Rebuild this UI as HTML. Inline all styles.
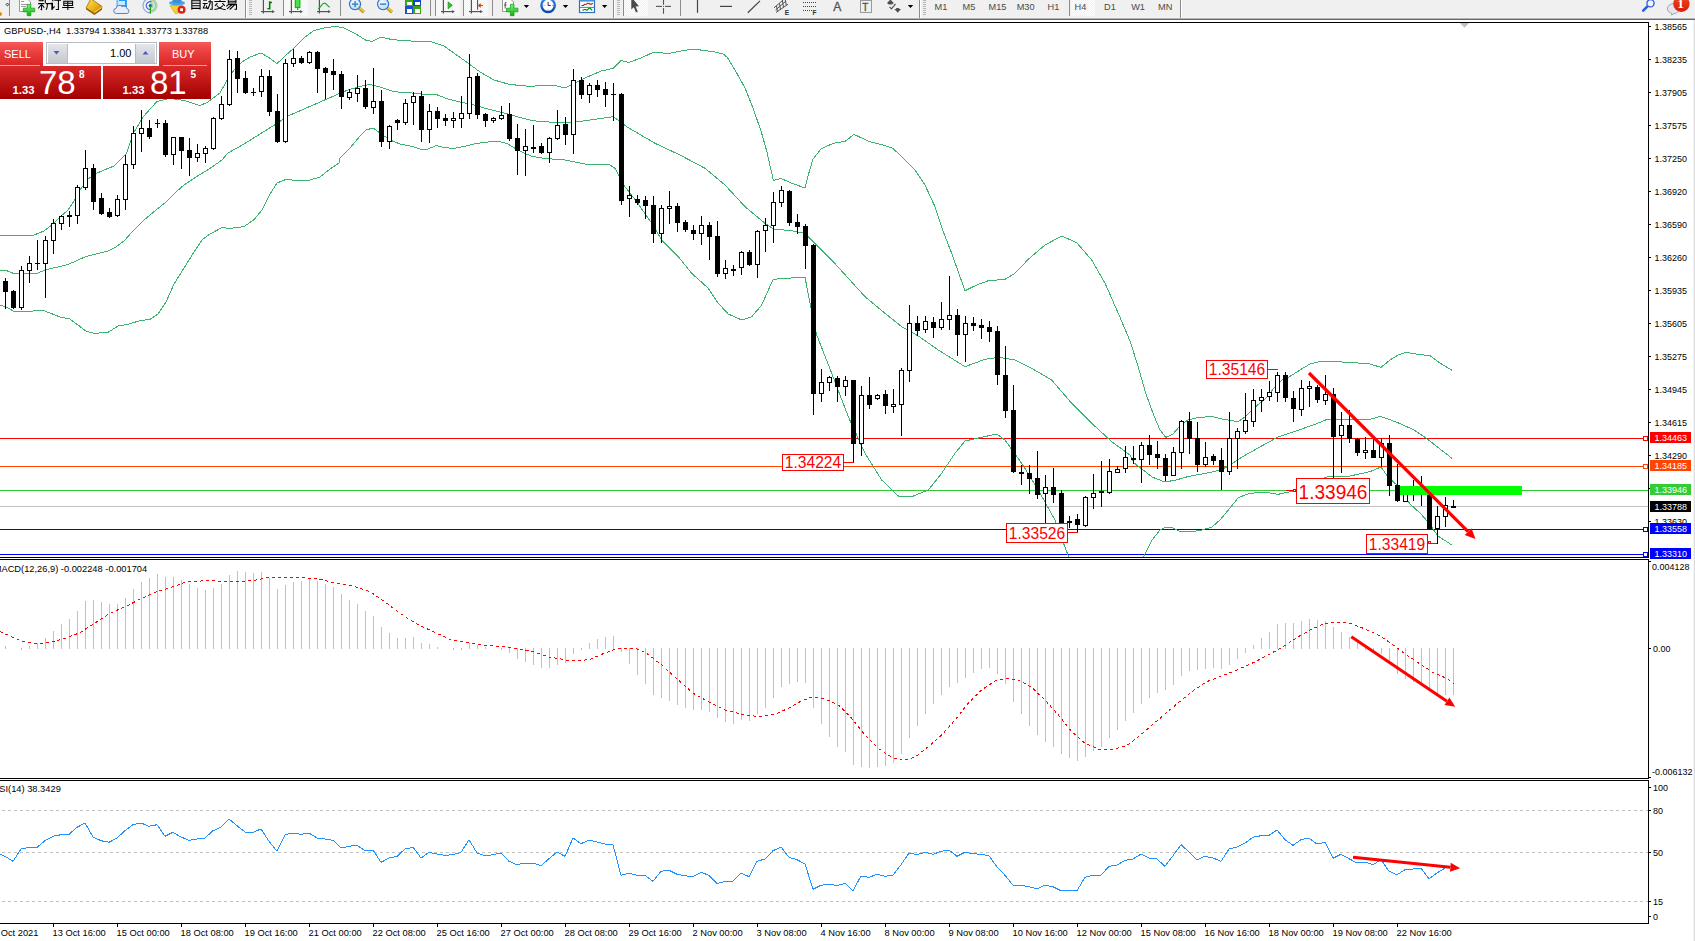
<!DOCTYPE html>
<html><head><meta charset="utf-8"><title>GBPUSD H4</title>
<style>
html,body{margin:0;padding:0;background:#fff;overflow:hidden}
body{width:1695px;height:941px;position:relative;font-family:"Liberation Sans",sans-serif}
svg{position:absolute;left:0;top:0;display:block}
svg text{font-family:"Liberation Sans",sans-serif}
</style></head><body>
<svg width="1695" height="941" viewBox="0 0 1695 941">
<rect x="0" y="0" width="1695" height="941" fill="#fff"/>
<g shape-rendering="crispEdges">
<rect x="0" y="438" width="1648" height="1" fill="#ff0000" />
<rect x="0" y="466" width="1648" height="1" fill="#ff4500" />
<rect x="0" y="490" width="1648" height="1" fill="#32cd32" />
<rect x="0" y="506" width="1648" height="1" fill="#c0c0c0" />
<rect x="0" y="529" width="1648" height="1" fill="#0000ff" />
<rect x="0" y="554" width="1648" height="1" fill="#0000ff" />
<clipPath id="cm"><rect x="0" y="23" width="1648" height="534"/></clipPath>
<g clip-path="url(#cm)">
<polyline points="0.0,235.6 20.0,235.6 34.0,235.0 44.0,231.0 52.0,225.0 60.0,217.0 68.0,210.0 74.0,201.0 80.0,190.0 88.0,179.0 96.0,173.6 104.0,170.0 114.0,166.0 120.0,160.0 126.7,153.3 133.3,133.3 143.3,116.7 156.7,101.7 170.0,98.3 185.0,100.7 200.0,105.6 208.0,102.0 220.0,93.0 226.0,82.0 234.0,70.0 242.0,62.0 250.0,57.0 261.0,53.0 268.0,57.0 277.0,63.6 284.0,57.0 294.0,48.0 304.0,38.0 314.0,30.4 324.0,28.0 336.0,26.4 344.0,28.0 356.0,34.0 366.0,40.4 372.0,41.4 381.0,37.0 392.0,39.6 404.0,40.6 418.0,41.4 432.0,42.0 444.0,46.0 458.0,56.0 468.0,63.0 480.0,72.0 494.0,80.0 508.0,84.0 520.0,85.6 532.0,86.4 539.0,85.6 553.3,85.0 565.0,88.0 585.0,78.0 601.0,71.0 613.0,68.4 621.0,60.4 629.0,62.4 641.0,58.0 653.0,52.4 669.0,53.4 681.0,51.0 693.0,49.0 705.0,50.6 715.0,52.0 723.0,54.0 727.0,57.0 735.0,70.0 745.0,88.0 753.0,108.0 761.0,131.0 767.0,152.0 771.0,170.0 773.4,180.4 781.0,178.4 791.0,183.0 805.0,188.0 808.0,176.0 813.0,159.0 821.0,149.0 833.0,143.4 845.0,141.4 854.0,134.4 869.0,141.4 881.0,144.4 893.0,148.4 904.0,159.0 915.0,170.0 925.0,185.0 935.0,206.7 943.3,231.7 951.7,253.3 960.0,276.7 965.0,290.7 976.7,285.0 988.3,280.7 1005.0,279.3 1015.0,273.3 1028.3,259.3 1045.0,245.0 1061.7,236.0 1076.7,242.7 1091.7,260.0 1105.0,283.3 1118.3,313.3 1130.0,341.0 1138.0,366.0 1146.0,394.0 1154.0,416.0 1160.0,430.0 1165.6,437.4 1173.0,434.0 1180.0,426.0 1188.0,420.0 1198.0,417.6 1212.0,416.4 1222.0,419.0 1238.0,421.6 1245.0,417.0 1254.0,408.0 1266.0,398.0 1274.0,388.0 1282.0,380.0 1290.0,376.4 1300.0,370.0 1310.0,364.0 1320.0,361.6 1330.0,361.4 1350.0,362.4 1370.0,364.0 1381.0,367.4 1390.0,360.0 1398.0,355.0 1406.0,352.4 1418.0,354.4 1430.0,355.6 1440.0,363.0 1452.4,370.6" fill="none" stroke="#3cb371" stroke-width="1" />
<polyline points="0.0,270.4 6.0,270.4 14.0,273.6 26.0,273.6 38.0,273.0 46.0,269.6 58.0,267.0 68.0,264.4 76.0,261.0 86.0,256.4 96.0,254.0 108.0,251.0 116.0,247.0 124.0,241.0 132.0,232.0 144.0,220.0 156.0,210.0 166.0,202.0 176.0,192.0 184.0,185.0 196.0,177.0 210.0,168.4 222.0,160.0 228.0,153.0 244.0,144.0 260.0,134.0 276.0,124.0 288.0,116.0 304.0,109.0 320.0,102.0 336.0,95.0 348.0,90.0 360.0,86.4 370.0,84.4 380.0,87.0 392.0,91.0 400.0,92.4 412.0,93.0 424.0,94.4 436.0,94.4 448.0,99.0 460.0,102.0 472.0,104.4 484.0,108.0 496.0,111.0 508.0,114.0 520.0,117.6 532.0,120.4 539.0,121.4 553.3,122.3 565.0,122.7 578.3,121.7 613.3,116.7 626.7,126.7 655.0,143.3 680.0,155.0 705.0,168.3 725.0,185.0 745.0,206.7 765.0,223.3 773.3,229.0 791.7,230.7 805.0,233.3 818.3,246.7 831.7,260.0 848.3,278.3 865.0,296.7 885.0,313.3 901.7,326.7 918.3,336.0 938.3,350.0 965.0,366.7 985.0,359.3 998.3,357.3 1015.0,360.0 1031.7,368.3 1051.7,380.0 1071.7,403.3 1091.7,423.3 1111.7,441.7 1130.0,455.0 1134.0,463.0 1142.0,469.0 1152.0,477.0 1165.0,482.0 1176.0,480.0 1188.0,476.6 1210.0,472.4 1221.0,470.0 1230.0,465.0 1242.0,457.0 1258.0,448.0 1278.0,437.0 1300.0,429.6 1316.0,424.0 1327.0,419.4 1346.0,419.4 1370.0,419.4 1380.0,416.4 1388.0,419.0 1400.0,423.6 1414.0,430.0 1426.0,438.0 1440.0,449.0 1452.4,458.6" fill="none" stroke="#3cb371" stroke-width="1" />
<polyline points="0.0,305.0 6.0,307.0 14.0,311.4 30.0,311.4 42.0,310.0 50.0,313.0 60.0,317.0 70.0,319.0 78.0,325.0 86.0,331.0 94.0,333.4 108.0,332.4 118.0,326.0 128.0,324.4 140.0,320.6 150.0,319.4 158.0,314.0 166.0,302.0 174.0,284.0 184.0,268.0 194.0,252.0 202.0,240.0 210.0,234.0 222.0,227.6 230.0,228.4 244.0,226.6 254.0,219.6 262.0,210.0 270.0,194.0 277.0,183.0 286.0,179.4 296.0,180.4 310.0,180.0 320.0,177.0 330.0,169.0 339.0,163.0 340.0,158.0 350.0,148.0 360.0,136.0 366.0,130.0 373.0,128.0 380.0,133.0 390.0,140.0 400.0,144.0 412.0,146.4 420.0,149.0 428.0,149.0 436.0,145.6 444.0,147.6 454.0,148.4 464.0,146.4 476.0,143.6 488.0,142.0 500.0,141.6 508.0,144.0 516.0,149.0 524.0,153.0 532.0,156.4 539.0,157.6 543.3,158.3 565.0,160.0 585.0,164.0 610.0,165.0 615.0,168.3 625.0,186.7 636.7,201.7 651.7,223.3 661.7,240.0 678.3,256.7 691.7,273.3 708.3,288.3 718.3,303.3 728.3,314.0 741.7,320.0 751.7,316.7 761.7,305.0 768.3,290.0 773.3,279.3 785.0,278.3 805.0,277.3 810.0,303.3 816.7,335.0 831.7,373.3 848.3,416.7 865.0,453.3 881.7,480.0 898.3,496.0 911.7,496.7 928.3,490.0 941.7,473.3 955.0,453.3 965.0,441.0 981.7,437.3 996.7,434.0 1005.0,440.0 1021.7,463.3 1038.3,490.0 1055.0,520.0 1068.3,556.0 1075.0,570.0 1085.0,586.7 1098.3,596.7 1115.0,590.0 1130.0,570.0 1136.0,572.0 1144.0,556.0 1152.0,540.0 1160.0,530.0 1166.0,527.0 1173.0,528.0 1180.0,531.6 1190.0,532.0 1202.0,530.0 1212.0,527.0 1220.0,520.0 1230.0,508.0 1238.0,498.0 1246.0,494.4 1258.0,492.4 1270.0,493.0 1278.0,494.4 1286.0,492.4 1296.0,491.0 1310.0,484.0 1327.0,477.0 1350.0,476.0 1370.0,471.6 1381.0,467.0 1388.0,477.0 1398.0,486.0 1410.0,504.0 1420.0,513.0 1428.0,522.0 1438.0,536.0 1452.4,545.4" fill="none" stroke="#3cb371" stroke-width="1" />
<rect x="5" y="278" width="1" height="31" fill="#000" />
<rect x="3" y="281" width="5" height="11" fill="#000" />
<rect x="13" y="290" width="1" height="19" fill="#000" />
<rect x="11" y="291" width="5" height="17" fill="#000" />
<rect x="21" y="266" width="1" height="44" fill="#000" />
<rect x="19" y="270" width="5" height="38" fill="#000" />
<rect x="20" y="271" width="3" height="36" fill="#fff" />
<rect x="29" y="256" width="1" height="27" fill="#000" />
<rect x="27" y="263" width="5" height="8" fill="#000" />
<rect x="28" y="264" width="3" height="6" fill="#fff" />
<rect x="37" y="240" width="1" height="30" fill="#000" />
<rect x="35" y="263" width="5" height="1" fill="#000" />
<rect x="45" y="236" width="1" height="62" fill="#000" />
<rect x="43" y="240" width="5" height="24" fill="#000" />
<rect x="44" y="241" width="3" height="22" fill="#fff" />
<rect x="53" y="219" width="1" height="35" fill="#000" />
<rect x="51" y="223" width="5" height="18" fill="#000" />
<rect x="52" y="224" width="3" height="16" fill="#fff" />
<rect x="61" y="215" width="1" height="15" fill="#000" />
<rect x="59" y="216" width="5" height="8" fill="#000" />
<rect x="60" y="217" width="3" height="6" fill="#fff" />
<rect x="69" y="211" width="1" height="16" fill="#000" />
<rect x="67" y="215" width="5" height="2" fill="#000" />
<rect x="77" y="185" width="1" height="39" fill="#000" />
<rect x="75" y="187" width="5" height="29" fill="#000" />
<rect x="76" y="188" width="3" height="27" fill="#fff" />
<rect x="85" y="150" width="1" height="40" fill="#000" />
<rect x="83" y="168" width="5" height="20" fill="#000" />
<rect x="84" y="169" width="3" height="18" fill="#fff" />
<rect x="93" y="164" width="1" height="46" fill="#000" />
<rect x="91" y="168" width="5" height="34" fill="#000" />
<rect x="101" y="193" width="1" height="22" fill="#000" />
<rect x="99" y="198" width="5" height="16" fill="#000" />
<rect x="109" y="208" width="1" height="10" fill="#000" />
<rect x="107" y="212" width="5" height="5" fill="#000" />
<rect x="117" y="195" width="1" height="22" fill="#000" />
<rect x="115" y="199" width="5" height="17" fill="#000" />
<rect x="116" y="200" width="3" height="15" fill="#fff" />
<rect x="125" y="155" width="1" height="55" fill="#000" />
<rect x="123" y="164" width="5" height="36" fill="#000" />
<rect x="124" y="165" width="3" height="34" fill="#fff" />
<rect x="133" y="126" width="1" height="43" fill="#000" />
<rect x="131" y="133" width="5" height="32" fill="#000" />
<rect x="132" y="134" width="3" height="30" fill="#fff" />
<rect x="141" y="110" width="1" height="42" fill="#000" />
<rect x="139" y="128" width="5" height="6" fill="#000" />
<rect x="140" y="129" width="3" height="4" fill="#fff" />
<rect x="149" y="120" width="1" height="19" fill="#000" />
<rect x="147" y="128" width="5" height="9" fill="#000" />
<rect x="157" y="119" width="1" height="9" fill="#000" />
<rect x="155" y="123" width="5" height="1" fill="#000" />
<rect x="165" y="120" width="1" height="37" fill="#000" />
<rect x="163" y="123" width="5" height="32" fill="#000" />
<rect x="173" y="137" width="1" height="28" fill="#000" />
<rect x="171" y="137" width="5" height="18" fill="#000" />
<rect x="172" y="138" width="3" height="16" fill="#fff" />
<rect x="181" y="137" width="1" height="32" fill="#000" />
<rect x="179" y="137" width="5" height="14" fill="#000" />
<rect x="189" y="138" width="1" height="38" fill="#000" />
<rect x="187" y="150" width="5" height="8" fill="#000" />
<rect x="197" y="144" width="1" height="18" fill="#000" />
<rect x="195" y="153" width="5" height="5" fill="#000" />
<rect x="196" y="154" width="3" height="3" fill="#fff" />
<rect x="205" y="146" width="1" height="17" fill="#000" />
<rect x="203" y="148" width="5" height="6" fill="#000" />
<rect x="204" y="149" width="3" height="4" fill="#fff" />
<rect x="213" y="117" width="1" height="33" fill="#000" />
<rect x="211" y="118" width="5" height="31" fill="#000" />
<rect x="212" y="119" width="3" height="29" fill="#fff" />
<rect x="221" y="96" width="1" height="24" fill="#000" />
<rect x="219" y="104" width="5" height="15" fill="#000" />
<rect x="220" y="105" width="3" height="13" fill="#fff" />
<rect x="229" y="50" width="1" height="56" fill="#000" />
<rect x="227" y="59" width="5" height="46" fill="#000" />
<rect x="228" y="60" width="3" height="44" fill="#fff" />
<rect x="237" y="51" width="1" height="42" fill="#000" />
<rect x="235" y="58" width="5" height="21" fill="#000" />
<rect x="245" y="71" width="1" height="23" fill="#000" />
<rect x="243" y="78" width="5" height="15" fill="#000" />
<rect x="253" y="88" width="1" height="8" fill="#000" />
<rect x="251" y="92" width="5" height="1" fill="#000" />
<rect x="261" y="69" width="1" height="28" fill="#000" />
<rect x="259" y="76" width="5" height="16" fill="#000" />
<rect x="260" y="77" width="3" height="14" fill="#fff" />
<rect x="269" y="70" width="1" height="46" fill="#000" />
<rect x="267" y="76" width="5" height="36" fill="#000" />
<rect x="277" y="94" width="1" height="49" fill="#000" />
<rect x="275" y="111" width="5" height="31" fill="#000" />
<rect x="285" y="59" width="1" height="84" fill="#000" />
<rect x="283" y="63" width="5" height="79" fill="#000" />
<rect x="284" y="64" width="3" height="77" fill="#fff" />
<rect x="293" y="49" width="1" height="18" fill="#000" />
<rect x="291" y="58" width="5" height="6" fill="#000" />
<rect x="292" y="59" width="3" height="4" fill="#fff" />
<rect x="301" y="56" width="1" height="8" fill="#000" />
<rect x="299" y="58" width="5" height="5" fill="#000" />
<rect x="309" y="51" width="1" height="13" fill="#000" />
<rect x="307" y="52" width="5" height="11" fill="#000" />
<rect x="308" y="53" width="3" height="9" fill="#fff" />
<rect x="317" y="51" width="1" height="42" fill="#000" />
<rect x="315" y="52" width="5" height="17" fill="#000" />
<rect x="325" y="67" width="1" height="32" fill="#000" />
<rect x="323" y="68" width="5" height="5" fill="#000" />
<rect x="333" y="59" width="1" height="31" fill="#000" />
<rect x="331" y="71" width="5" height="4" fill="#000" />
<rect x="341" y="71" width="1" height="38" fill="#000" />
<rect x="339" y="74" width="5" height="23" fill="#000" />
<rect x="349" y="89" width="1" height="11" fill="#000" />
<rect x="347" y="92" width="5" height="6" fill="#000" />
<rect x="348" y="93" width="3" height="4" fill="#fff" />
<rect x="357" y="75" width="1" height="27" fill="#000" />
<rect x="355" y="88" width="5" height="6" fill="#000" />
<rect x="356" y="89" width="3" height="4" fill="#fff" />
<rect x="365" y="80" width="1" height="29" fill="#000" />
<rect x="363" y="88" width="5" height="19" fill="#000" />
<rect x="373" y="68" width="1" height="46" fill="#000" />
<rect x="371" y="101" width="5" height="7" fill="#000" />
<rect x="372" y="102" width="3" height="5" fill="#fff" />
<rect x="381" y="90" width="1" height="57" fill="#000" />
<rect x="379" y="101" width="5" height="41" fill="#000" />
<rect x="389" y="125" width="1" height="24" fill="#000" />
<rect x="387" y="126" width="5" height="16" fill="#000" />
<rect x="388" y="127" width="3" height="14" fill="#fff" />
<rect x="397" y="119" width="1" height="11" fill="#000" />
<rect x="395" y="120" width="5" height="3" fill="#000" />
<rect x="405" y="99" width="1" height="26" fill="#000" />
<rect x="403" y="103" width="5" height="20" fill="#000" />
<rect x="404" y="104" width="3" height="18" fill="#fff" />
<rect x="413" y="92" width="1" height="33" fill="#000" />
<rect x="411" y="96" width="5" height="7" fill="#000" />
<rect x="412" y="97" width="3" height="5" fill="#fff" />
<rect x="421" y="91" width="1" height="51" fill="#000" />
<rect x="419" y="96" width="5" height="34" fill="#000" />
<rect x="429" y="104" width="1" height="39" fill="#000" />
<rect x="427" y="111" width="5" height="19" fill="#000" />
<rect x="428" y="112" width="3" height="17" fill="#fff" />
<rect x="437" y="107" width="1" height="21" fill="#000" />
<rect x="435" y="111" width="5" height="8" fill="#000" />
<rect x="445" y="114" width="1" height="12" fill="#000" />
<rect x="443" y="118" width="5" height="3" fill="#000" />
<rect x="453" y="112" width="1" height="16" fill="#000" />
<rect x="451" y="118" width="5" height="3" fill="#000" />
<rect x="452" y="119" width="3" height="1" fill="#fff" />
<rect x="461" y="96" width="1" height="32" fill="#000" />
<rect x="459" y="113" width="5" height="6" fill="#000" />
<rect x="460" y="114" width="3" height="4" fill="#fff" />
<rect x="469" y="54" width="1" height="65" fill="#000" />
<rect x="467" y="77" width="5" height="37" fill="#000" />
<rect x="468" y="78" width="3" height="35" fill="#fff" />
<rect x="477" y="73" width="1" height="46" fill="#000" />
<rect x="475" y="76" width="5" height="39" fill="#000" />
<rect x="485" y="113" width="1" height="14" fill="#000" />
<rect x="483" y="114" width="5" height="7" fill="#000" />
<rect x="493" y="117" width="1" height="6" fill="#000" />
<rect x="491" y="118" width="5" height="3" fill="#000" />
<rect x="492" y="119" width="3" height="1" fill="#fff" />
<rect x="501" y="106" width="1" height="14" fill="#000" />
<rect x="499" y="115" width="5" height="4" fill="#000" />
<rect x="500" y="116" width="3" height="2" fill="#fff" />
<rect x="509" y="103" width="1" height="38" fill="#000" />
<rect x="507" y="114" width="5" height="25" fill="#000" />
<rect x="517" y="124" width="1" height="51" fill="#000" />
<rect x="515" y="138" width="5" height="13" fill="#000" />
<rect x="525" y="129" width="1" height="47" fill="#000" />
<rect x="523" y="146" width="5" height="5" fill="#000" />
<rect x="524" y="147" width="3" height="3" fill="#fff" />
<rect x="533" y="125" width="1" height="28" fill="#000" />
<rect x="531" y="147" width="5" height="2" fill="#000" />
<rect x="541" y="143" width="1" height="11" fill="#000" />
<rect x="539" y="146" width="5" height="7" fill="#000" />
<rect x="549" y="137" width="1" height="26" fill="#000" />
<rect x="547" y="138" width="5" height="15" fill="#000" />
<rect x="548" y="139" width="3" height="13" fill="#fff" />
<rect x="557" y="110" width="1" height="30" fill="#000" />
<rect x="555" y="125" width="5" height="14" fill="#000" />
<rect x="556" y="126" width="3" height="12" fill="#fff" />
<rect x="565" y="117" width="1" height="28" fill="#000" />
<rect x="563" y="124" width="5" height="11" fill="#000" />
<rect x="573" y="69" width="1" height="85" fill="#000" />
<rect x="571" y="80" width="5" height="55" fill="#000" />
<rect x="572" y="81" width="3" height="53" fill="#fff" />
<rect x="581" y="77" width="1" height="22" fill="#000" />
<rect x="579" y="80" width="5" height="15" fill="#000" />
<rect x="589" y="83" width="1" height="20" fill="#000" />
<rect x="587" y="85" width="5" height="10" fill="#000" />
<rect x="588" y="86" width="3" height="8" fill="#fff" />
<rect x="597" y="80" width="1" height="17" fill="#000" />
<rect x="595" y="85" width="5" height="5" fill="#000" />
<rect x="605" y="82" width="1" height="25" fill="#000" />
<rect x="603" y="89" width="5" height="6" fill="#000" />
<rect x="613" y="83" width="1" height="38" fill="#000" />
<rect x="611" y="94" width="5" height="1" fill="#000" />
<rect x="621" y="93" width="1" height="112" fill="#000" />
<rect x="619" y="94" width="5" height="107" fill="#000" />
<rect x="629" y="186" width="1" height="31" fill="#000" />
<rect x="627" y="195" width="5" height="4" fill="#000" />
<rect x="628" y="196" width="3" height="2" fill="#fff" />
<rect x="637" y="195" width="1" height="10" fill="#000" />
<rect x="635" y="199" width="5" height="4" fill="#000" />
<rect x="645" y="196" width="1" height="23" fill="#000" />
<rect x="643" y="200" width="5" height="6" fill="#000" />
<rect x="653" y="196" width="1" height="47" fill="#000" />
<rect x="651" y="205" width="5" height="29" fill="#000" />
<rect x="661" y="205" width="1" height="38" fill="#000" />
<rect x="659" y="208" width="5" height="26" fill="#000" />
<rect x="660" y="209" width="3" height="24" fill="#fff" />
<rect x="669" y="191" width="1" height="33" fill="#000" />
<rect x="667" y="206" width="5" height="3" fill="#000" />
<rect x="668" y="207" width="3" height="1" fill="#fff" />
<rect x="677" y="203" width="1" height="29" fill="#000" />
<rect x="675" y="206" width="5" height="17" fill="#000" />
<rect x="685" y="220" width="1" height="12" fill="#000" />
<rect x="683" y="222" width="5" height="8" fill="#000" />
<rect x="693" y="225" width="1" height="15" fill="#000" />
<rect x="691" y="230" width="5" height="4" fill="#000" />
<rect x="701" y="216" width="1" height="29" fill="#000" />
<rect x="699" y="225" width="5" height="9" fill="#000" />
<rect x="700" y="226" width="3" height="7" fill="#fff" />
<rect x="709" y="222" width="1" height="38" fill="#000" />
<rect x="707" y="225" width="5" height="12" fill="#000" />
<rect x="717" y="221" width="1" height="56" fill="#000" />
<rect x="715" y="236" width="5" height="38" fill="#000" />
<rect x="725" y="260" width="1" height="19" fill="#000" />
<rect x="723" y="268" width="5" height="6" fill="#000" />
<rect x="724" y="269" width="3" height="4" fill="#fff" />
<rect x="733" y="265" width="1" height="11" fill="#000" />
<rect x="731" y="269" width="5" height="2" fill="#000" />
<rect x="741" y="251" width="1" height="24" fill="#000" />
<rect x="739" y="252" width="5" height="16" fill="#000" />
<rect x="740" y="253" width="3" height="14" fill="#fff" />
<rect x="749" y="250" width="1" height="16" fill="#000" />
<rect x="747" y="252" width="5" height="13" fill="#000" />
<rect x="757" y="230" width="1" height="48" fill="#000" />
<rect x="755" y="231" width="5" height="34" fill="#000" />
<rect x="756" y="232" width="3" height="32" fill="#fff" />
<rect x="765" y="218" width="1" height="34" fill="#000" />
<rect x="763" y="225" width="5" height="6" fill="#000" />
<rect x="764" y="226" width="3" height="4" fill="#fff" />
<rect x="773" y="192" width="1" height="51" fill="#000" />
<rect x="771" y="202" width="5" height="24" fill="#000" />
<rect x="772" y="203" width="3" height="22" fill="#fff" />
<rect x="781" y="186" width="1" height="21" fill="#000" />
<rect x="779" y="190" width="5" height="13" fill="#000" />
<rect x="780" y="191" width="3" height="11" fill="#fff" />
<rect x="789" y="190" width="1" height="36" fill="#000" />
<rect x="787" y="191" width="5" height="32" fill="#000" />
<rect x="797" y="214" width="1" height="20" fill="#000" />
<rect x="795" y="222" width="5" height="5" fill="#000" />
<rect x="805" y="224" width="1" height="45" fill="#000" />
<rect x="803" y="226" width="5" height="20" fill="#000" />
<rect x="813" y="244" width="1" height="171" fill="#000" />
<rect x="811" y="245" width="5" height="149" fill="#000" />
<rect x="821" y="369" width="1" height="33" fill="#000" />
<rect x="819" y="382" width="5" height="12" fill="#000" />
<rect x="820" y="383" width="3" height="10" fill="#fff" />
<rect x="829" y="376" width="1" height="15" fill="#000" />
<rect x="827" y="377" width="5" height="6" fill="#000" />
<rect x="828" y="378" width="3" height="4" fill="#fff" />
<rect x="837" y="376" width="1" height="26" fill="#000" />
<rect x="835" y="378" width="5" height="9" fill="#000" />
<rect x="845" y="376" width="1" height="20" fill="#000" />
<rect x="843" y="380" width="5" height="7" fill="#000" />
<rect x="844" y="381" width="3" height="5" fill="#fff" />
<rect x="853" y="380" width="1" height="64" fill="#000" />
<rect x="851" y="380" width="5" height="64" fill="#000" />
<rect x="861" y="386" width="1" height="70" fill="#000" />
<rect x="859" y="395" width="5" height="49" fill="#000" />
<rect x="860" y="396" width="3" height="47" fill="#fff" />
<rect x="869" y="377" width="1" height="32" fill="#000" />
<rect x="867" y="395" width="5" height="10" fill="#000" />
<rect x="877" y="394" width="1" height="6" fill="#000" />
<rect x="875" y="395" width="5" height="4" fill="#000" />
<rect x="876" y="396" width="3" height="2" fill="#fff" />
<rect x="885" y="390" width="1" height="24" fill="#000" />
<rect x="883" y="394" width="5" height="12" fill="#000" />
<rect x="893" y="389" width="1" height="24" fill="#000" />
<rect x="891" y="404" width="5" height="3" fill="#000" />
<rect x="892" y="405" width="3" height="1" fill="#fff" />
<rect x="901" y="368" width="1" height="68" fill="#000" />
<rect x="899" y="370" width="5" height="35" fill="#000" />
<rect x="900" y="371" width="3" height="33" fill="#fff" />
<rect x="909" y="305" width="1" height="77" fill="#000" />
<rect x="907" y="323" width="5" height="48" fill="#000" />
<rect x="908" y="324" width="3" height="46" fill="#fff" />
<rect x="917" y="316" width="1" height="20" fill="#000" />
<rect x="915" y="323" width="5" height="8" fill="#000" />
<rect x="925" y="316" width="1" height="17" fill="#000" />
<rect x="923" y="321" width="5" height="9" fill="#000" />
<rect x="924" y="322" width="3" height="7" fill="#fff" />
<rect x="933" y="317" width="1" height="21" fill="#000" />
<rect x="931" y="322" width="5" height="6" fill="#000" />
<rect x="941" y="302" width="1" height="28" fill="#000" />
<rect x="939" y="319" width="5" height="9" fill="#000" />
<rect x="940" y="320" width="3" height="7" fill="#fff" />
<rect x="949" y="276" width="1" height="54" fill="#000" />
<rect x="947" y="315" width="5" height="5" fill="#000" />
<rect x="948" y="316" width="3" height="3" fill="#fff" />
<rect x="957" y="309" width="1" height="47" fill="#000" />
<rect x="955" y="315" width="5" height="20" fill="#000" />
<rect x="965" y="316" width="1" height="46" fill="#000" />
<rect x="963" y="323" width="5" height="12" fill="#000" />
<rect x="964" y="324" width="3" height="10" fill="#fff" />
<rect x="973" y="317" width="1" height="14" fill="#000" />
<rect x="971" y="323" width="5" height="3" fill="#000" />
<rect x="981" y="319" width="1" height="20" fill="#000" />
<rect x="979" y="325" width="5" height="3" fill="#000" />
<rect x="989" y="321" width="1" height="21" fill="#000" />
<rect x="987" y="327" width="5" height="5" fill="#000" />
<rect x="997" y="326" width="1" height="59" fill="#000" />
<rect x="995" y="331" width="5" height="44" fill="#000" />
<rect x="1005" y="346" width="1" height="72" fill="#000" />
<rect x="1003" y="375" width="5" height="36" fill="#000" />
<rect x="1013" y="385" width="1" height="88" fill="#000" />
<rect x="1011" y="410" width="5" height="62" fill="#000" />
<rect x="1021" y="465" width="1" height="20" fill="#000" />
<rect x="1019" y="472" width="5" height="2" fill="#000" />
<rect x="1029" y="465" width="1" height="29" fill="#000" />
<rect x="1027" y="473" width="5" height="6" fill="#000" />
<rect x="1037" y="451" width="1" height="48" fill="#000" />
<rect x="1035" y="478" width="5" height="17" fill="#000" />
<rect x="1045" y="475" width="1" height="49" fill="#000" />
<rect x="1043" y="487" width="5" height="7" fill="#000" />
<rect x="1044" y="488" width="3" height="5" fill="#fff" />
<rect x="1053" y="468" width="1" height="35" fill="#000" />
<rect x="1051" y="487" width="5" height="8" fill="#000" />
<rect x="1061" y="490" width="1" height="36" fill="#000" />
<rect x="1059" y="493" width="5" height="31" fill="#000" />
<rect x="1069" y="516" width="1" height="12" fill="#000" />
<rect x="1067" y="521" width="5" height="2" fill="#000" />
<rect x="1077" y="514" width="1" height="18" fill="#000" />
<rect x="1075" y="519" width="5" height="6" fill="#000" />
<rect x="1085" y="496" width="1" height="31" fill="#000" />
<rect x="1083" y="497" width="5" height="29" fill="#000" />
<rect x="1084" y="498" width="3" height="27" fill="#fff" />
<rect x="1093" y="474" width="1" height="35" fill="#000" />
<rect x="1091" y="493" width="5" height="5" fill="#000" />
<rect x="1092" y="494" width="3" height="3" fill="#fff" />
<rect x="1101" y="461" width="1" height="46" fill="#000" />
<rect x="1099" y="491" width="5" height="2" fill="#000" />
<rect x="1109" y="459" width="1" height="35" fill="#000" />
<rect x="1107" y="471" width="5" height="22" fill="#000" />
<rect x="1108" y="472" width="3" height="20" fill="#fff" />
<rect x="1117" y="466" width="1" height="7" fill="#000" />
<rect x="1115" y="469" width="5" height="4" fill="#000" />
<rect x="1116" y="470" width="3" height="2" fill="#fff" />
<rect x="1125" y="446" width="1" height="27" fill="#000" />
<rect x="1123" y="457" width="5" height="12" fill="#000" />
<rect x="1124" y="458" width="3" height="10" fill="#fff" />
<rect x="1133" y="446" width="1" height="18" fill="#000" />
<rect x="1131" y="458" width="5" height="2" fill="#000" />
<rect x="1141" y="442" width="1" height="41" fill="#000" />
<rect x="1139" y="445" width="5" height="15" fill="#000" />
<rect x="1140" y="446" width="3" height="13" fill="#fff" />
<rect x="1149" y="435" width="1" height="30" fill="#000" />
<rect x="1147" y="445" width="5" height="10" fill="#000" />
<rect x="1157" y="441" width="1" height="28" fill="#000" />
<rect x="1155" y="454" width="5" height="4" fill="#000" />
<rect x="1165" y="454" width="1" height="27" fill="#000" />
<rect x="1163" y="458" width="5" height="18" fill="#000" />
<rect x="1173" y="447" width="1" height="29" fill="#000" />
<rect x="1171" y="452" width="5" height="24" fill="#000" />
<rect x="1172" y="453" width="3" height="22" fill="#fff" />
<rect x="1181" y="420" width="1" height="49" fill="#000" />
<rect x="1179" y="421" width="5" height="32" fill="#000" />
<rect x="1180" y="422" width="3" height="30" fill="#fff" />
<rect x="1189" y="412" width="1" height="42" fill="#000" />
<rect x="1187" y="421" width="5" height="18" fill="#000" />
<rect x="1197" y="422" width="1" height="50" fill="#000" />
<rect x="1195" y="438" width="5" height="27" fill="#000" />
<rect x="1205" y="442" width="1" height="25" fill="#000" />
<rect x="1203" y="457" width="5" height="8" fill="#000" />
<rect x="1204" y="458" width="3" height="6" fill="#fff" />
<rect x="1213" y="454" width="1" height="11" fill="#000" />
<rect x="1211" y="456" width="5" height="5" fill="#000" />
<rect x="1221" y="448" width="1" height="42" fill="#000" />
<rect x="1219" y="460" width="5" height="12" fill="#000" />
<rect x="1229" y="412" width="1" height="63" fill="#000" />
<rect x="1227" y="438" width="5" height="34" fill="#000" />
<rect x="1228" y="439" width="3" height="32" fill="#fff" />
<rect x="1237" y="428" width="1" height="41" fill="#000" />
<rect x="1235" y="431" width="5" height="8" fill="#000" />
<rect x="1236" y="432" width="3" height="6" fill="#fff" />
<rect x="1245" y="393" width="1" height="41" fill="#000" />
<rect x="1243" y="420" width="5" height="12" fill="#000" />
<rect x="1244" y="421" width="3" height="10" fill="#fff" />
<rect x="1253" y="389" width="1" height="38" fill="#000" />
<rect x="1251" y="400" width="5" height="22" fill="#000" />
<rect x="1252" y="401" width="3" height="20" fill="#fff" />
<rect x="1261" y="389" width="1" height="23" fill="#000" />
<rect x="1259" y="397" width="5" height="4" fill="#000" />
<rect x="1260" y="398" width="3" height="2" fill="#fff" />
<rect x="1269" y="381" width="1" height="20" fill="#000" />
<rect x="1267" y="392" width="5" height="5" fill="#000" />
<rect x="1268" y="393" width="3" height="3" fill="#fff" />
<rect x="1277" y="372" width="1" height="30" fill="#000" />
<rect x="1275" y="375" width="5" height="18" fill="#000" />
<rect x="1276" y="376" width="3" height="16" fill="#fff" />
<rect x="1285" y="372" width="1" height="30" fill="#000" />
<rect x="1283" y="375" width="5" height="23" fill="#000" />
<rect x="1293" y="391" width="1" height="31" fill="#000" />
<rect x="1291" y="398" width="5" height="11" fill="#000" />
<rect x="1301" y="380" width="1" height="36" fill="#000" />
<rect x="1299" y="388" width="5" height="22" fill="#000" />
<rect x="1300" y="389" width="3" height="20" fill="#fff" />
<rect x="1309" y="381" width="1" height="26" fill="#000" />
<rect x="1307" y="386" width="5" height="3" fill="#000" />
<rect x="1308" y="387" width="3" height="1" fill="#fff" />
<rect x="1317" y="385" width="1" height="18" fill="#000" />
<rect x="1315" y="387" width="5" height="13" fill="#000" />
<rect x="1325" y="375" width="1" height="30" fill="#000" />
<rect x="1323" y="394" width="5" height="7" fill="#000" />
<rect x="1324" y="395" width="3" height="5" fill="#fff" />
<rect x="1333" y="388" width="1" height="91" fill="#000" />
<rect x="1331" y="394" width="5" height="43" fill="#000" />
<rect x="1341" y="412" width="1" height="61" fill="#000" />
<rect x="1339" y="425" width="5" height="11" fill="#000" />
<rect x="1340" y="426" width="3" height="9" fill="#fff" />
<rect x="1349" y="410" width="1" height="33" fill="#000" />
<rect x="1347" y="425" width="5" height="14" fill="#000" />
<rect x="1357" y="438" width="1" height="18" fill="#000" />
<rect x="1355" y="439" width="5" height="14" fill="#000" />
<rect x="1365" y="437" width="1" height="22" fill="#000" />
<rect x="1363" y="450" width="5" height="3" fill="#000" />
<rect x="1364" y="451" width="3" height="1" fill="#fff" />
<rect x="1373" y="439" width="1" height="19" fill="#000" />
<rect x="1371" y="450" width="5" height="8" fill="#000" />
<rect x="1381" y="438" width="1" height="29" fill="#000" />
<rect x="1379" y="443" width="5" height="15" fill="#000" />
<rect x="1380" y="444" width="3" height="13" fill="#fff" />
<rect x="1389" y="435" width="1" height="61" fill="#000" />
<rect x="1387" y="443" width="5" height="43" fill="#000" />
<rect x="1397" y="464" width="1" height="38" fill="#000" />
<rect x="1395" y="485" width="5" height="16" fill="#000" />
<rect x="1405" y="488" width="1" height="14" fill="#000" />
<rect x="1403" y="488" width="5" height="14" fill="#000" />
<rect x="1404" y="489" width="3" height="12" fill="#fff" />
<rect x="1413" y="480" width="1" height="21" fill="#000" />
<rect x="1411" y="490" width="5" height="1" fill="#000" />
<rect x="1421" y="476" width="1" height="30" fill="#000" />
<rect x="1419" y="492" width="5" height="1" fill="#000" />
<rect x="1429" y="488" width="1" height="42" fill="#000" />
<rect x="1427" y="494" width="5" height="35" fill="#000" />
<rect x="1437" y="506" width="1" height="37" fill="#000" />
<rect x="1435" y="516" width="5" height="13" fill="#000" />
<rect x="1436" y="517" width="3" height="11" fill="#fff" />
<rect x="1445" y="497" width="1" height="30" fill="#000" />
<rect x="1443" y="505" width="5" height="12" fill="#000" />
<rect x="1444" y="506" width="3" height="10" fill="#fff" />
<rect x="1453" y="500" width="1" height="8" fill="#000" />
<rect x="1451" y="506" width="5" height="2" fill="#000" />
</g>
<rect x="1400" y="486" width="122" height="9" fill="#00ff00" />
</g>
<g shape-rendering="crispEdges">
<rect x="853" y="443" width="1" height="19" fill="#000" />
<rect x="844" y="462" width="10" height="1" fill="#ff0000" />
<rect x="1077" y="525" width="1" height="8" fill="#000" />
<rect x="1068" y="532" width="10" height="1" fill="#ff0000" />
<rect x="1268" y="369" width="10" height="1" fill="#ff0000" />
<rect x="1286" y="490" width="7" height="1" fill="#ff0000" />
<rect x="1293.5" y="489.5" width="2" height="2" fill="#fff" stroke="#ff0000"/>
<rect x="1428.5" y="541.5" width="2" height="2" fill="#fff" stroke="#ff0000"/>
<rect x="1431" y="543" width="6" height="1" fill="#ff0000" />
<rect x="1437" y="530" width="1" height="14" fill="#000" />
</g>
<rect x="782.5" y="454.5" width="61" height="16" fill="#fff" stroke="#ff0000" stroke-width="1" shape-rendering="crispEdges"/>
<text transform="translate(813.0,468.1) scale(0.991,1)" font-size="15.78" fill="#ff0000" text-anchor="middle">1.34224</text>
<rect x="1006.5" y="523.5" width="61" height="19" fill="#fff" stroke="#ff0000" stroke-width="1" shape-rendering="crispEdges"/>
<text transform="translate(1037.0,538.6) scale(0.991,1)" font-size="15.78" fill="#ff0000" text-anchor="middle">1.33526</text>
<rect x="1206.5" y="360.5" width="61" height="18" fill="#fff" stroke="#ff0000" stroke-width="1" shape-rendering="crispEdges"/>
<text transform="translate(1237.0,375.1) scale(0.991,1)" font-size="15.78" fill="#ff0000" text-anchor="middle">1.35146</text>
<rect x="1296.5" y="478.5" width="73" height="25" fill="#fff" stroke="#ff0000" stroke-width="1" shape-rendering="crispEdges"/>
<text transform="translate(1333.0,498.5) scale(0.911,1)" font-size="20.95" fill="#ff0000" text-anchor="middle">1.33946</text>
<rect x="1366.5" y="534.5" width="61" height="19" fill="#fff" stroke="#ff0000" stroke-width="1" shape-rendering="crispEdges"/>
<text transform="translate(1397.0,549.6) scale(0.991,1)" font-size="15.78" fill="#ff0000" text-anchor="middle">1.33419</text>
<g shape-rendering="crispEdges">
<rect x="5" y="646" width="1" height="3" fill="#c0c0c0" />
<rect x="21" y="648" width="1" height="2" fill="#c0c0c0" />
<rect x="29" y="646" width="1" height="3" fill="#c0c0c0" />
<rect x="37" y="643" width="1" height="6" fill="#c0c0c0" />
<rect x="45" y="638" width="1" height="11" fill="#c0c0c0" />
<rect x="53" y="631" width="1" height="18" fill="#c0c0c0" />
<rect x="61" y="624" width="1" height="25" fill="#c0c0c0" />
<rect x="69" y="619" width="1" height="30" fill="#c0c0c0" />
<rect x="77" y="611" width="1" height="38" fill="#c0c0c0" />
<rect x="85" y="601" width="1" height="48" fill="#c0c0c0" />
<rect x="93" y="600" width="1" height="49" fill="#c0c0c0" />
<rect x="101" y="602" width="1" height="47" fill="#c0c0c0" />
<rect x="109" y="604" width="1" height="45" fill="#c0c0c0" />
<rect x="117" y="604" width="1" height="45" fill="#c0c0c0" />
<rect x="125" y="598" width="1" height="51" fill="#c0c0c0" />
<rect x="133" y="589" width="1" height="60" fill="#c0c0c0" />
<rect x="141" y="582" width="1" height="67" fill="#c0c0c0" />
<rect x="149" y="578" width="1" height="71" fill="#c0c0c0" />
<rect x="157" y="574" width="1" height="75" fill="#c0c0c0" />
<rect x="165" y="577" width="1" height="72" fill="#c0c0c0" />
<rect x="173" y="577" width="1" height="72" fill="#c0c0c0" />
<rect x="181" y="580" width="1" height="69" fill="#c0c0c0" />
<rect x="189" y="584" width="1" height="65" fill="#c0c0c0" />
<rect x="197" y="588" width="1" height="61" fill="#c0c0c0" />
<rect x="205" y="590" width="1" height="59" fill="#c0c0c0" />
<rect x="213" y="588" width="1" height="61" fill="#c0c0c0" />
<rect x="221" y="584" width="1" height="65" fill="#c0c0c0" />
<rect x="229" y="575" width="1" height="74" fill="#c0c0c0" />
<rect x="237" y="571" width="1" height="78" fill="#c0c0c0" />
<rect x="245" y="572" width="1" height="77" fill="#c0c0c0" />
<rect x="253" y="573" width="1" height="76" fill="#c0c0c0" />
<rect x="261" y="572" width="1" height="77" fill="#c0c0c0" />
<rect x="269" y="578" width="1" height="71" fill="#c0c0c0" />
<rect x="277" y="589" width="1" height="60" fill="#c0c0c0" />
<rect x="285" y="585" width="1" height="64" fill="#c0c0c0" />
<rect x="293" y="582" width="1" height="67" fill="#c0c0c0" />
<rect x="301" y="581" width="1" height="68" fill="#c0c0c0" />
<rect x="309" y="578" width="1" height="71" fill="#c0c0c0" />
<rect x="317" y="581" width="1" height="68" fill="#c0c0c0" />
<rect x="325" y="584" width="1" height="65" fill="#c0c0c0" />
<rect x="333" y="587" width="1" height="62" fill="#c0c0c0" />
<rect x="341" y="594" width="1" height="55" fill="#c0c0c0" />
<rect x="349" y="600" width="1" height="49" fill="#c0c0c0" />
<rect x="357" y="604" width="1" height="45" fill="#c0c0c0" />
<rect x="365" y="611" width="1" height="38" fill="#c0c0c0" />
<rect x="373" y="616" width="1" height="33" fill="#c0c0c0" />
<rect x="381" y="627" width="1" height="22" fill="#c0c0c0" />
<rect x="389" y="633" width="1" height="16" fill="#c0c0c0" />
<rect x="397" y="638" width="1" height="11" fill="#c0c0c0" />
<rect x="405" y="638" width="1" height="11" fill="#c0c0c0" />
<rect x="413" y="637" width="1" height="12" fill="#c0c0c0" />
<rect x="421" y="643" width="1" height="6" fill="#c0c0c0" />
<rect x="429" y="644" width="1" height="5" fill="#c0c0c0" />
<rect x="437" y="647" width="1" height="2" fill="#c0c0c0" />
<rect x="453" y="648" width="1" height="2" fill="#c0c0c0" />
<rect x="461" y="648" width="1" height="2" fill="#c0c0c0" />
<rect x="469" y="643" width="1" height="6" fill="#c0c0c0" />
<rect x="477" y="645" width="1" height="4" fill="#c0c0c0" />
<rect x="485" y="647" width="1" height="2" fill="#c0c0c0" />
<rect x="501" y="648" width="1" height="2" fill="#c0c0c0" />
<rect x="509" y="648" width="1" height="5" fill="#c0c0c0" />
<rect x="517" y="648" width="1" height="11" fill="#c0c0c0" />
<rect x="525" y="648" width="1" height="14" fill="#c0c0c0" />
<rect x="533" y="648" width="1" height="17" fill="#c0c0c0" />
<rect x="541" y="648" width="1" height="20" fill="#c0c0c0" />
<rect x="549" y="648" width="1" height="20" fill="#c0c0c0" />
<rect x="557" y="648" width="1" height="17" fill="#c0c0c0" />
<rect x="565" y="648" width="1" height="15" fill="#c0c0c0" />
<rect x="573" y="648" width="1" height="6" fill="#c0c0c0" />
<rect x="581" y="648" width="1" height="2" fill="#c0c0c0" />
<rect x="589" y="643" width="1" height="6" fill="#c0c0c0" />
<rect x="597" y="639" width="1" height="10" fill="#c0c0c0" />
<rect x="605" y="637" width="1" height="12" fill="#c0c0c0" />
<rect x="613" y="636" width="1" height="13" fill="#c0c0c0" />
<rect x="621" y="648" width="1" height="4" fill="#c0c0c0" />
<rect x="629" y="648" width="1" height="16" fill="#c0c0c0" />
<rect x="637" y="648" width="1" height="27" fill="#c0c0c0" />
<rect x="645" y="648" width="1" height="36" fill="#c0c0c0" />
<rect x="653" y="648" width="1" height="47" fill="#c0c0c0" />
<rect x="661" y="648" width="1" height="50" fill="#c0c0c0" />
<rect x="669" y="648" width="1" height="53" fill="#c0c0c0" />
<rect x="677" y="648" width="1" height="57" fill="#c0c0c0" />
<rect x="685" y="648" width="1" height="60" fill="#c0c0c0" />
<rect x="693" y="648" width="1" height="62" fill="#c0c0c0" />
<rect x="701" y="648" width="1" height="62" fill="#c0c0c0" />
<rect x="709" y="648" width="1" height="64" fill="#c0c0c0" />
<rect x="717" y="648" width="1" height="70" fill="#c0c0c0" />
<rect x="725" y="648" width="1" height="74" fill="#c0c0c0" />
<rect x="733" y="648" width="1" height="76" fill="#c0c0c0" />
<rect x="741" y="648" width="1" height="72" fill="#c0c0c0" />
<rect x="749" y="648" width="1" height="73" fill="#c0c0c0" />
<rect x="757" y="648" width="1" height="66" fill="#c0c0c0" />
<rect x="765" y="648" width="1" height="60" fill="#c0c0c0" />
<rect x="773" y="648" width="1" height="50" fill="#c0c0c0" />
<rect x="781" y="648" width="1" height="39" fill="#c0c0c0" />
<rect x="789" y="648" width="1" height="36" fill="#c0c0c0" />
<rect x="797" y="648" width="1" height="34" fill="#c0c0c0" />
<rect x="805" y="648" width="1" height="35" fill="#c0c0c0" />
<rect x="813" y="648" width="1" height="60" fill="#c0c0c0" />
<rect x="821" y="648" width="1" height="76" fill="#c0c0c0" />
<rect x="829" y="648" width="1" height="89" fill="#c0c0c0" />
<rect x="837" y="648" width="1" height="99" fill="#c0c0c0" />
<rect x="845" y="648" width="1" height="104" fill="#c0c0c0" />
<rect x="853" y="648" width="1" height="117" fill="#c0c0c0" />
<rect x="861" y="648" width="1" height="119" fill="#c0c0c0" />
<rect x="869" y="648" width="1" height="120" fill="#c0c0c0" />
<rect x="877" y="648" width="1" height="119" fill="#c0c0c0" />
<rect x="885" y="648" width="1" height="118" fill="#c0c0c0" />
<rect x="893" y="648" width="1" height="115" fill="#c0c0c0" />
<rect x="901" y="648" width="1" height="106" fill="#c0c0c0" />
<rect x="909" y="648" width="1" height="90" fill="#c0c0c0" />
<rect x="917" y="648" width="1" height="78" fill="#c0c0c0" />
<rect x="925" y="648" width="1" height="66" fill="#c0c0c0" />
<rect x="933" y="648" width="1" height="56" fill="#c0c0c0" />
<rect x="941" y="648" width="1" height="47" fill="#c0c0c0" />
<rect x="949" y="648" width="1" height="39" fill="#c0c0c0" />
<rect x="957" y="648" width="1" height="35" fill="#c0c0c0" />
<rect x="965" y="648" width="1" height="30" fill="#c0c0c0" />
<rect x="973" y="648" width="1" height="25" fill="#c0c0c0" />
<rect x="981" y="648" width="1" height="21" fill="#c0c0c0" />
<rect x="989" y="648" width="1" height="20" fill="#c0c0c0" />
<rect x="997" y="648" width="1" height="26" fill="#c0c0c0" />
<rect x="1005" y="648" width="1" height="36" fill="#c0c0c0" />
<rect x="1013" y="648" width="1" height="54" fill="#c0c0c0" />
<rect x="1021" y="648" width="1" height="66" fill="#c0c0c0" />
<rect x="1029" y="648" width="1" height="78" fill="#c0c0c0" />
<rect x="1037" y="648" width="1" height="87" fill="#c0c0c0" />
<rect x="1045" y="648" width="1" height="94" fill="#c0c0c0" />
<rect x="1053" y="648" width="1" height="99" fill="#c0c0c0" />
<rect x="1061" y="648" width="1" height="106" fill="#c0c0c0" />
<rect x="1069" y="648" width="1" height="110" fill="#c0c0c0" />
<rect x="1077" y="648" width="1" height="113" fill="#c0c0c0" />
<rect x="1085" y="648" width="1" height="109" fill="#c0c0c0" />
<rect x="1093" y="648" width="1" height="103" fill="#c0c0c0" />
<rect x="1101" y="648" width="1" height="99" fill="#c0c0c0" />
<rect x="1109" y="648" width="1" height="90" fill="#c0c0c0" />
<rect x="1117" y="648" width="1" height="82" fill="#c0c0c0" />
<rect x="1125" y="648" width="1" height="73" fill="#c0c0c0" />
<rect x="1133" y="648" width="1" height="65" fill="#c0c0c0" />
<rect x="1141" y="648" width="1" height="56" fill="#c0c0c0" />
<rect x="1149" y="648" width="1" height="50" fill="#c0c0c0" />
<rect x="1157" y="648" width="1" height="45" fill="#c0c0c0" />
<rect x="1165" y="648" width="1" height="42" fill="#c0c0c0" />
<rect x="1173" y="648" width="1" height="37" fill="#c0c0c0" />
<rect x="1181" y="648" width="1" height="28" fill="#c0c0c0" />
<rect x="1189" y="648" width="1" height="23" fill="#c0c0c0" />
<rect x="1197" y="648" width="1" height="22" fill="#c0c0c0" />
<rect x="1205" y="648" width="1" height="21" fill="#c0c0c0" />
<rect x="1213" y="648" width="1" height="20" fill="#c0c0c0" />
<rect x="1221" y="648" width="1" height="21" fill="#c0c0c0" />
<rect x="1229" y="648" width="1" height="17" fill="#c0c0c0" />
<rect x="1237" y="648" width="1" height="11" fill="#c0c0c0" />
<rect x="1245" y="648" width="1" height="5" fill="#c0c0c0" />
<rect x="1253" y="645" width="1" height="4" fill="#c0c0c0" />
<rect x="1261" y="638" width="1" height="11" fill="#c0c0c0" />
<rect x="1269" y="632" width="1" height="17" fill="#c0c0c0" />
<rect x="1277" y="624" width="1" height="25" fill="#c0c0c0" />
<rect x="1285" y="623" width="1" height="26" fill="#c0c0c0" />
<rect x="1293" y="623" width="1" height="26" fill="#c0c0c0" />
<rect x="1301" y="621" width="1" height="28" fill="#c0c0c0" />
<rect x="1309" y="619" width="1" height="30" fill="#c0c0c0" />
<rect x="1317" y="620" width="1" height="29" fill="#c0c0c0" />
<rect x="1325" y="621" width="1" height="28" fill="#c0c0c0" />
<rect x="1333" y="627" width="1" height="22" fill="#c0c0c0" />
<rect x="1341" y="632" width="1" height="17" fill="#c0c0c0" />
<rect x="1349" y="637" width="1" height="12" fill="#c0c0c0" />
<rect x="1357" y="643" width="1" height="6" fill="#c0c0c0" />
<rect x="1365" y="648" width="1" height="2" fill="#c0c0c0" />
<rect x="1373" y="648" width="1" height="4" fill="#c0c0c0" />
<rect x="1381" y="648" width="1" height="6" fill="#c0c0c0" />
<rect x="1389" y="648" width="1" height="14" fill="#c0c0c0" />
<rect x="1397" y="648" width="1" height="26" fill="#c0c0c0" />
<rect x="1405" y="648" width="1" height="31" fill="#c0c0c0" />
<rect x="1413" y="648" width="1" height="34" fill="#c0c0c0" />
<rect x="1421" y="648" width="1" height="37" fill="#c0c0c0" />
<rect x="1429" y="648" width="1" height="41" fill="#c0c0c0" />
<rect x="1437" y="648" width="1" height="46" fill="#c0c0c0" />
<rect x="1445" y="648" width="1" height="47" fill="#c0c0c0" />
<rect x="1453" y="648" width="1" height="47" fill="#c0c0c0" />
</g>
<polyline points="0.0,631.7 10.0,636.0 21.7,641.0 36.7,644.0 53.3,641.7 66.7,637.7 80.0,632.7 93.3,624.0 110.0,613.3 126.7,606.0 141.7,598.3 156.7,591.7 173.3,586.7 186.7,581.7 206.7,580.7 233.3,581.7 253.3,580.7 266.7,577.7 300.0,577.3 320.0,579.3 336.7,583.3 353.3,586.0 370.0,591.7 383.3,600.7 400.0,613.3 416.7,624.0 433.3,631.7 450.0,639.3 466.7,642.7 483.3,645.0 500.0,646.3 516.7,648.3 533.3,651.7 550.0,657.3 563.3,659.3 565.0,660.0 578.3,661.0 590.0,659.3 601.7,654.3 615.0,649.3 625.0,648.3 636.7,648.7 646.7,653.3 661.7,665.0 678.3,680.0 693.3,693.3 708.3,701.7 725.0,710.0 741.7,714.3 758.3,716.7 775.0,714.3 788.3,708.3 801.7,700.7 813.3,696.7 825.0,699.0 838.3,705.0 851.7,718.3 865.0,735.0 878.3,748.3 891.7,757.3 903.3,760.3 915.0,757.3 928.3,746.7 941.7,735.0 955.0,720.0 968.3,703.3 981.7,690.0 995.0,681.0 1006.7,678.3 1018.3,680.0 1031.7,687.3 1045.0,700.0 1058.3,715.0 1071.7,731.7 1085.0,743.3 1098.3,749.0 1111.7,750.0 1125.0,746.0 1130.0,743.3 1143.3,732.7 1160.0,718.3 1176.7,704.0 1193.3,690.7 1206.7,681.7 1220.0,676.7 1236.7,670.0 1253.3,662.7 1270.0,654.0 1283.3,646.7 1296.7,637.7 1310.0,630.0 1323.3,624.0 1336.7,622.3 1350.0,623.3 1363.3,628.3 1376.7,634.0 1390.0,642.7 1403.3,652.7 1416.7,661.7 1433.3,672.7 1446.7,678.3 1454.0,684.0" fill="none" stroke="#ff0000" stroke-width="1" stroke-dasharray="3,3" shape-rendering="crispEdges"/>
<text transform="translate(-6.3,572) scale(0.949,1)" font-size="9.8" fill="#000" xml:space="preserve">MACD(12,26,9) -0.002248 -0.001704</text>
<g shape-rendering="crispEdges">
<line x1="0" y1="810.5" x2="1648" y2="810.5" stroke="#c0c0c0" stroke-width="1" stroke-dasharray="3,3" stroke-dashoffset="4"/>
<line x1="0" y1="852.5" x2="1648" y2="852.5" stroke="#c0c0c0" stroke-width="1" stroke-dasharray="3,3" stroke-dashoffset="4"/>
<line x1="0" y1="901.5" x2="1648" y2="901.5" stroke="#c0c0c0" stroke-width="1" stroke-dasharray="3,3" stroke-dashoffset="4"/>
</g>
<polyline points="-3.0,853.0 5.0,856.3 13.0,861.3 21.0,849.0 29.0,847.3 37.0,847.3 45.0,840.7 53.0,836.3 61.0,834.7 69.0,834.3 77.0,827.3 85.0,823.0 93.0,837.0 101.0,840.7 109.0,842.3 117.0,838.0 125.0,830.7 133.0,824.7 141.0,823.0 149.0,826.3 157.0,824.7 165.0,836.3 173.0,832.3 181.0,837.0 189.0,840.3 197.0,839.0 205.0,838.0 213.0,830.7 221.0,827.3 229.0,819.0 237.0,825.7 245.0,832.0 253.0,832.3 261.0,829.0 269.0,841.3 277.0,851.3 285.0,834.7 293.0,833.0 301.0,834.3 309.0,833.0 317.0,838.0 325.0,839.0 333.0,840.3 341.0,848.0 349.0,846.3 357.0,845.3 365.0,850.7 373.0,850.0 381.0,862.3 389.0,858.0 397.0,856.3 405.0,849.0 413.0,847.3 421.0,858.0 429.0,852.3 437.0,854.0 445.0,855.3 453.0,854.7 461.0,852.3 469.0,839.7 477.0,853.0 485.0,855.7 493.0,854.7 501.0,853.0 509.0,861.3 517.0,864.7 525.0,863.0 533.0,863.0 541.0,865.7 549.0,858.7 557.0,852.0 565.0,856.3 573.0,838.0 581.0,843.7 589.0,840.0 597.0,842.0 605.0,844.0 613.0,844.7 621.0,875.3 629.0,873.3 637.0,875.3 645.0,875.3 653.0,881.3 661.0,871.3 669.0,870.3 677.0,874.3 685.0,875.7 693.0,876.7 701.0,872.3 709.0,875.3 717.0,883.7 725.0,881.3 733.0,881.3 741.0,873.0 749.0,876.7 757.0,861.3 765.0,859.0 773.0,850.7 781.0,847.0 789.0,857.3 797.0,859.7 805.0,864.0 813.0,889.3 821.0,885.3 829.0,884.0 837.0,885.7 845.0,883.3 853.0,890.7 861.0,876.0 869.0,877.3 877.0,874.3 885.0,876.3 893.0,875.0 901.0,864.7 909.0,853.0 917.0,854.7 925.0,852.3 933.0,854.3 941.0,851.3 949.0,850.0 957.0,856.3 965.0,852.3 973.0,853.7 981.0,854.3 989.0,855.7 997.0,867.0 1005.0,875.3 1013.0,885.3 1021.0,885.3 1029.0,886.7 1037.0,888.7 1045.0,885.3 1053.0,886.7 1061.0,890.7 1069.0,890.7 1077.0,890.7 1085.0,877.3 1093.0,875.3 1101.0,875.3 1109.0,866.3 1117.0,865.0 1125.0,860.3 1133.0,859.0 1141.0,854.0 1149.0,858.0 1157.0,859.0 1165.0,866.3 1173.0,855.7 1181.0,844.7 1189.0,852.0 1197.0,859.7 1205.0,856.3 1213.0,858.0 1221.0,861.3 1229.0,849.0 1237.0,847.0 1245.0,843.0 1253.0,837.3 1261.0,835.7 1269.0,835.3 1277.0,830.0 1285.0,839.7 1293.0,845.3 1301.0,839.7 1309.0,838.0 1317.0,844.0 1325.0,842.3 1333.0,858.3 1341.0,854.3 1349.0,858.7 1357.0,863.0 1365.0,862.0 1373.0,864.7 1381.0,859.7 1389.0,871.3 1397.0,874.7 1405.0,869.7 1413.0,869.0 1421.0,868.0 1429.0,879.0 1437.0,873.0 1445.0,868.0 1453.0,865.3" fill="none" stroke="#1e90ff" stroke-width="1" shape-rendering="crispEdges"/>
<text transform="translate(-7.4,792) scale(0.949,1)" font-size="9.8" fill="#000" xml:space="preserve">RSI(14) 38.3429</text>
<line x1="1309" y1="373" x2="1468.1" y2="531.6" stroke="#ff0000" stroke-width="3.2"/>
<polygon points="1475.5,539.0 1464.7,535.0 1468.2,531.7 1471.5,528.2" fill="#ff0000"/>
<line x1="1351.3" y1="636.8" x2="1446.9" y2="701.2" stroke="#ff0000" stroke-width="3.0"/>
<polygon points="1455.2,706.8 1444.4,704.9 1447.1,701.3 1449.4,697.5" fill="#ff0000"/>
<line x1="1353" y1="857.3" x2="1450.3" y2="867.3" stroke="#ff0000" stroke-width="3.0"/>
<polygon points="1460.2,868.3 1449.8,871.8 1450.5,867.3 1450.7,862.8" fill="#ff0000"/>
<g shape-rendering="crispEdges">
<rect x="0" y="22" width="1649" height="1" fill="#000" />
<rect x="0" y="557" width="1649" height="1" fill="#000" />
<rect x="1648" y="22" width="1" height="536" fill="#000" />
<rect x="0" y="559" width="1649" height="1" fill="#000" />
<rect x="0" y="778" width="1649" height="1" fill="#000" />
<rect x="1648" y="559" width="1" height="220" fill="#000" />
<rect x="0" y="780" width="1649" height="1" fill="#000" />
<rect x="0" y="923" width="1649" height="1" fill="#000" />
<rect x="1648" y="780" width="1" height="144" fill="#000" />
<rect x="1693" y="20" width="1" height="921" fill="#f4f4f4" />
<rect x="1694" y="20" width="1" height="921" fill="#dcdcdc" />
<rect x="53" y="923" width="1" height="4" fill="#000" />
<rect x="117" y="923" width="1" height="4" fill="#000" />
<rect x="181" y="923" width="1" height="4" fill="#000" />
<rect x="245" y="923" width="1" height="4" fill="#000" />
<rect x="309" y="923" width="1" height="4" fill="#000" />
<rect x="373" y="923" width="1" height="4" fill="#000" />
<rect x="437" y="923" width="1" height="4" fill="#000" />
<rect x="501" y="923" width="1" height="4" fill="#000" />
<rect x="565" y="923" width="1" height="4" fill="#000" />
<rect x="629" y="923" width="1" height="4" fill="#000" />
<rect x="693" y="923" width="1" height="4" fill="#000" />
<rect x="757" y="923" width="1" height="4" fill="#000" />
<rect x="821" y="923" width="1" height="4" fill="#000" />
<rect x="885" y="923" width="1" height="4" fill="#000" />
<rect x="949" y="923" width="1" height="4" fill="#000" />
<rect x="1013" y="923" width="1" height="4" fill="#000" />
<rect x="1077" y="923" width="1" height="4" fill="#000" />
<rect x="1141" y="923" width="1" height="4" fill="#000" />
<rect x="1205" y="923" width="1" height="4" fill="#000" />
<rect x="1269" y="923" width="1" height="4" fill="#000" />
<rect x="1333" y="923" width="1" height="4" fill="#000" />
<rect x="1397" y="923" width="1" height="4" fill="#000" />
</g>
<text transform="translate(-11.5,936) scale(0.949,1)" font-size="9.8" fill="#000" xml:space="preserve">11 Oct 2021</text>
<text transform="translate(52.5,936) scale(0.949,1)" font-size="9.8" fill="#000" xml:space="preserve">13 Oct 16:00</text>
<text transform="translate(116.5,936) scale(0.949,1)" font-size="9.8" fill="#000" xml:space="preserve">15 Oct 00:00</text>
<text transform="translate(180.5,936) scale(0.949,1)" font-size="9.8" fill="#000" xml:space="preserve">18 Oct 08:00</text>
<text transform="translate(244.5,936) scale(0.949,1)" font-size="9.8" fill="#000" xml:space="preserve">19 Oct 16:00</text>
<text transform="translate(308.5,936) scale(0.949,1)" font-size="9.8" fill="#000" xml:space="preserve">21 Oct 00:00</text>
<text transform="translate(372.5,936) scale(0.949,1)" font-size="9.8" fill="#000" xml:space="preserve">22 Oct 08:00</text>
<text transform="translate(436.5,936) scale(0.949,1)" font-size="9.8" fill="#000" xml:space="preserve">25 Oct 16:00</text>
<text transform="translate(500.5,936) scale(0.949,1)" font-size="9.8" fill="#000" xml:space="preserve">27 Oct 00:00</text>
<text transform="translate(564.5,936) scale(0.949,1)" font-size="9.8" fill="#000" xml:space="preserve">28 Oct 08:00</text>
<text transform="translate(628.5,936) scale(0.949,1)" font-size="9.8" fill="#000" xml:space="preserve">29 Oct 16:00</text>
<text transform="translate(692.5,936) scale(0.949,1)" font-size="9.8" fill="#000" xml:space="preserve">2 Nov 00:00</text>
<text transform="translate(756.5,936) scale(0.949,1)" font-size="9.8" fill="#000" xml:space="preserve">3 Nov 08:00</text>
<text transform="translate(820.5,936) scale(0.949,1)" font-size="9.8" fill="#000" xml:space="preserve">4 Nov 16:00</text>
<text transform="translate(884.5,936) scale(0.949,1)" font-size="9.8" fill="#000" xml:space="preserve">8 Nov 00:00</text>
<text transform="translate(948.5,936) scale(0.949,1)" font-size="9.8" fill="#000" xml:space="preserve">9 Nov 08:00</text>
<text transform="translate(1012.5,936) scale(0.949,1)" font-size="9.8" fill="#000" xml:space="preserve">10 Nov 16:00</text>
<text transform="translate(1076.5,936) scale(0.949,1)" font-size="9.8" fill="#000" xml:space="preserve">12 Nov 00:00</text>
<text transform="translate(1140.5,936) scale(0.949,1)" font-size="9.8" fill="#000" xml:space="preserve">15 Nov 08:00</text>
<text transform="translate(1204.5,936) scale(0.949,1)" font-size="9.8" fill="#000" xml:space="preserve">16 Nov 16:00</text>
<text transform="translate(1268.5,936) scale(0.949,1)" font-size="9.8" fill="#000" xml:space="preserve">18 Nov 00:00</text>
<text transform="translate(1332.5,936) scale(0.949,1)" font-size="9.8" fill="#000" xml:space="preserve">19 Nov 08:00</text>
<text transform="translate(1396.5,936) scale(0.949,1)" font-size="9.8" fill="#000" xml:space="preserve">22 Nov 16:00</text>
<g shape-rendering="crispEdges">
<rect x="1649" y="26" width="2" height="1" fill="#000" />
<rect x="1649" y="59" width="2" height="1" fill="#000" />
<rect x="1649" y="92" width="2" height="1" fill="#000" />
<rect x="1649" y="125" width="2" height="1" fill="#000" />
<rect x="1649" y="158" width="2" height="1" fill="#000" />
<rect x="1649" y="191" width="2" height="1" fill="#000" />
<rect x="1649" y="224" width="2" height="1" fill="#000" />
<rect x="1649" y="257" width="2" height="1" fill="#000" />
<rect x="1649" y="290" width="2" height="1" fill="#000" />
<rect x="1649" y="323" width="2" height="1" fill="#000" />
<rect x="1649" y="356" width="2" height="1" fill="#000" />
<rect x="1649" y="389" width="2" height="1" fill="#000" />
<rect x="1649" y="422" width="2" height="1" fill="#000" />
<rect x="1649" y="455" width="2" height="1" fill="#000" />
<rect x="1649" y="488" width="2" height="1" fill="#000" />
<rect x="1649" y="521" width="2" height="1" fill="#000" />
</g>
<text transform="translate(1654.5,29.9) scale(0.935,1)" font-size="9.6" fill="#000">1.38565</text>
<text transform="translate(1654.5,62.9) scale(0.935,1)" font-size="9.6" fill="#000">1.38235</text>
<text transform="translate(1654.5,95.9) scale(0.935,1)" font-size="9.6" fill="#000">1.37905</text>
<text transform="translate(1654.5,128.9) scale(0.935,1)" font-size="9.6" fill="#000">1.37575</text>
<text transform="translate(1654.5,161.9) scale(0.935,1)" font-size="9.6" fill="#000">1.37250</text>
<text transform="translate(1654.5,194.9) scale(0.935,1)" font-size="9.6" fill="#000">1.36920</text>
<text transform="translate(1654.5,227.9) scale(0.935,1)" font-size="9.6" fill="#000">1.36590</text>
<text transform="translate(1654.5,260.9) scale(0.935,1)" font-size="9.6" fill="#000">1.36260</text>
<text transform="translate(1654.5,293.9) scale(0.935,1)" font-size="9.6" fill="#000">1.35935</text>
<text transform="translate(1654.5,326.9) scale(0.935,1)" font-size="9.6" fill="#000">1.35605</text>
<text transform="translate(1654.5,359.9) scale(0.935,1)" font-size="9.6" fill="#000">1.35275</text>
<text transform="translate(1654.5,392.9) scale(0.935,1)" font-size="9.6" fill="#000">1.34945</text>
<text transform="translate(1654.5,425.9) scale(0.935,1)" font-size="9.6" fill="#000">1.34615</text>
<text transform="translate(1654.5,458.9) scale(0.935,1)" font-size="9.6" fill="#000">1.34290</text>
<text transform="translate(1654.5,491.9) scale(0.935,1)" font-size="9.6" fill="#000">1.33960</text>
<text transform="translate(1654.5,524.9) scale(0.935,1)" font-size="9.6" fill="#000">1.33630</text>
<g shape-rendering="crispEdges">
<rect x="1649" y="561" width="2" height="1" fill="#000" />
<rect x="1649" y="648" width="2" height="1" fill="#000" />
<rect x="1649" y="777" width="2" height="1" fill="#000" />
<rect x="1649" y="787" width="2" height="1" fill="#000" />
<rect x="1649" y="810" width="2" height="1" fill="#000" />
<rect x="1649" y="852" width="2" height="1" fill="#000" />
<rect x="1649" y="901" width="2" height="1" fill="#000" />
<rect x="1649" y="916" width="2" height="1" fill="#000" />
</g>
<text transform="translate(1652,570.2) scale(0.935,1)" font-size="9.6" fill="#000">0.004128</text>
<text transform="translate(1653,652.2) scale(0.935,1)" font-size="9.6" fill="#000">0.00</text>
<text transform="translate(1652,775) scale(0.935,1)" font-size="9.6" fill="#000">-0.006132</text>
<text transform="translate(1653,791) scale(0.935,1)" font-size="9.6" fill="#000">100</text>
<text transform="translate(1653,814) scale(0.935,1)" font-size="9.6" fill="#000">80</text>
<text transform="translate(1653,856) scale(0.935,1)" font-size="9.6" fill="#000">50</text>
<text transform="translate(1653,905) scale(0.935,1)" font-size="9.6" fill="#000">15</text>
<text transform="translate(1653,920) scale(0.935,1)" font-size="9.6" fill="#000">0</text>
<rect x="1650" y="432" width="41" height="11" fill="#ff0000" shape-rendering="crispEdges"/>
<text transform="translate(1654.5,441.0) scale(0.935,1)" font-size="9.6" fill="#fff">1.34463</text>
<rect x="1643.5" y="436.5" width="4" height="4" fill="#fff" stroke="#ff0000" shape-rendering="crispEdges"/>
<rect x="1650" y="460" width="41" height="11" fill="#ff4500" shape-rendering="crispEdges"/>
<text transform="translate(1654.5,469.0) scale(0.935,1)" font-size="9.6" fill="#fff">1.34185</text>
<rect x="1643.5" y="464.5" width="4" height="4" fill="#fff" stroke="#ff4500" shape-rendering="crispEdges"/>
<rect x="1650" y="484" width="41" height="11" fill="#32cd32" shape-rendering="crispEdges"/>
<text transform="translate(1654.5,493.0) scale(0.935,1)" font-size="9.6" fill="#fff">1.33946</text>
<rect x="1650" y="501" width="41" height="11" fill="#000" shape-rendering="crispEdges"/>
<text transform="translate(1654.5,510.0) scale(0.935,1)" font-size="9.6" fill="#fff">1.33788</text>
<rect x="1650" y="523" width="41" height="11" fill="#0000ff" shape-rendering="crispEdges"/>
<text transform="translate(1654.5,532.0) scale(0.935,1)" font-size="9.6" fill="#fff">1.33558</text>
<rect x="1643.5" y="527.5" width="4" height="4" fill="#fff" stroke="#0000ff" shape-rendering="crispEdges"/>
<rect x="1650" y="548" width="41" height="11" fill="#0000ff" shape-rendering="crispEdges"/>
<text transform="translate(1654.5,557.0) scale(0.935,1)" font-size="9.6" fill="#fff">1.33310</text>
<rect x="1643.5" y="552.5" width="4" height="4" fill="#fff" stroke="#0000ff" shape-rendering="crispEdges"/>
<!-- title -->
<text transform="translate(4,34.3) scale(0.949,1)" font-size="9.8" fill="#000" xml:space="preserve">GBPUSD-,H4  1.33794 1.33841 1.33773 1.33788</text>
<!-- trade panel -->
<defs>
<linearGradient id="gbtn" x1="0" y1="0" x2="0" y2="1"><stop offset="0" stop-color="#f65a5a"/><stop offset="0.5" stop-color="#e93a3a"/><stop offset="1" stop-color="#d92626"/></linearGradient>
<linearGradient id="gbig" x1="0" y1="0" x2="0" y2="1"><stop offset="0" stop-color="#d92a2a"/><stop offset="1" stop-color="#a30000"/></linearGradient>
<linearGradient id="gsp" x1="0" y1="0" x2="0" y2="1"><stop offset="0" stop-color="#e4e6ea"/><stop offset="1" stop-color="#c4c7cd"/></linearGradient>
</defs>
<g shape-rendering="crispEdges">
<rect x="0" y="42" width="43" height="24" fill="url(#gbtn)"/>
<rect x="159" y="42" width="52" height="24" fill="url(#gbtn)"/>
<rect x="0" y="66" width="101" height="33" fill="url(#gbig)"/>
<rect x="103" y="66" width="108" height="33" fill="url(#gbig)"/>
<rect x="0" y="65" width="40" height="1" fill="#f79a9a"/>
<rect x="163" y="65" width="44" height="1" fill="#f79a9a"/>
<rect x="46.5" y="42.5" width="110" height="21" fill="#fff" stroke="#b8bcc4"/>
<rect x="48" y="44" width="19" height="19" fill="url(#gsp)"/>
<rect x="136" y="44" width="19" height="19" fill="url(#gsp)"/>
<rect x="67" y="44" width="1" height="19" fill="#b8bcc4"/>
<rect x="135" y="44" width="1" height="19" fill="#b8bcc4"/>
</g>
<polygon points="53.5,51 59.5,51 56.5,54.5" fill="#4a5cc0"/>
<polygon points="142.5,54.5 148.5,54.5 145.5,51" fill="#4a5cc0"/>
<text x="4" y="58" font-size="11" fill="#fff">SELL</text>
<text x="172" y="58" font-size="11" fill="#fff">BUY</text>
<text x="131.5" y="57" font-size="11" fill="#000" text-anchor="end">1.00</text>
<text x="12.5" y="94" font-size="11.3" font-weight="bold" fill="#fff">1.33</text>
<text x="39" y="94" font-size="33" fill="#fff">78</text>
<text x="79" y="77.5" font-size="10" font-weight="bold" fill="#fff">8</text>
<text x="122.5" y="94" font-size="11.3" font-weight="bold" fill="#fff">1.33</text>
<text x="150" y="94" font-size="33" fill="#fff">81</text>
<text x="190.5" y="77.5" font-size="10" font-weight="bold" fill="#fff">5</text>

<defs>
<pattern id="hatch" width="2" height="2" patternUnits="userSpaceOnUse"><rect width="2" height="2" fill="#f0f0f0"/><rect width="1" height="1" fill="#fff"/><rect x="1" y="1" width="1" height="1" fill="#fff"/></pattern>
<linearGradient id="ggold" x1="0" y1="0" x2="1" y2="1"><stop offset="0" stop-color="#fbe26a"/><stop offset="0.5" stop-color="#eab818"/><stop offset="1" stop-color="#b87808"/></linearGradient>
<linearGradient id="gplus" x1="0" y1="0" x2="0" y2="1"><stop offset="0" stop-color="#7df07d"/><stop offset="1" stop-color="#10b010"/></linearGradient>
<linearGradient id="gbadge" x1="0" y1="0" x2="0" y2="1"><stop offset="0" stop-color="#e84e2e"/><stop offset="1" stop-color="#d81c00"/></linearGradient>
<radialGradient id="gglass" cx="0.4" cy="0.35" r="0.7"><stop offset="0" stop-color="#f4fbff"/><stop offset="1" stop-color="#b4d8f4"/></radialGradient>
<linearGradient id="gclock" x1="0" y1="0" x2="0" y2="1"><stop offset="0" stop-color="#3a8cf0"/><stop offset="1" stop-color="#0a48b0"/></linearGradient>
<g id="plus"><path d="M4.2 0.3h3.6v3.9h3.9v3.6h-3.9v3.9h-3.6v-3.9h-3.9v-3.6h3.9z" fill="url(#gplus)" stroke="#0a9a0a" stroke-width="0.7"/></g>
<g id="drop"><polygon points="0,0 5.4,0 2.7,3.1" fill="#000"/></g>
<g id="axes" stroke="#555" stroke-width="1.2" fill="#555"><line x1="2.4" y1="-1" x2="2.4" y2="13.6"/><line x1="0" y1="11.6" x2="13" y2="11.6"/><polygon points="13.8,11.6 11.2,10 11.2,13.2" stroke="none"/></g>
<g id="grip" fill="#b8b8b8" shape-rendering="crispEdges"><rect x="0" y="0" width="3" height="1"/><rect x="0" y="2" width="3" height="1"/><rect x="0" y="4" width="3" height="1"/><rect x="0" y="6" width="3" height="1"/><rect x="0" y="8" width="3" height="1"/><rect x="0" y="10" width="3" height="1"/><rect x="0" y="12" width="3" height="1"/><rect x="0" y="14" width="3" height="1"/></g>
</defs>
<g shape-rendering="crispEdges">
<rect x="0" y="0" width="1695" height="17" fill="#f0f0f0"/>
<rect x="0" y="17" width="1695" height="1" fill="#f4f4f4"/>
<rect x="0" y="18" width="1695" height="1" fill="#b4b4b4"/>
<rect x="0" y="19" width="1695" height="1" fill="#696969"/>
<rect x="0" y="20" width="1693" height="2" fill="#fff"/>
<!-- selected backgrounds -->
<rect x="284" y="0" width="24" height="16" fill="url(#hatch)"/>
<rect x="436" y="0" width="24" height="16" fill="url(#hatch)"/>
<rect x="464" y="0" width="24" height="16" fill="url(#hatch)"/>
<rect x="624" y="0" width="24" height="16" fill="url(#hatch)"/>
<rect x="1071" y="0" width="24" height="16" fill="url(#hatch)"/>
<!-- separators -->
<g fill="#8c8c8c">
<rect x="9" y="0" width="1" height="16"/>
<rect x="245" y="0" width="1" height="18"/>
<rect x="283" y="0" width="1" height="16"/>
<rect x="340" y="0" width="1" height="16"/>
<rect x="430" y="0" width="1" height="16"/>
<rect x="435" y="0" width="1" height="16"/>
<rect x="463" y="0" width="1" height="16"/>
<rect x="492" y="0" width="1" height="16"/>
<rect x="613" y="0" width="1" height="18"/>
<rect x="623" y="0" width="1" height="16"/>
<rect x="680" y="0" width="1" height="16"/>
<rect x="919" y="0" width="1" height="18"/>
<rect x="1069" y="0" width="1" height="16"/>
<rect x="1180" y="0" width="1" height="18"/>
</g>
<g fill="#fff"><rect x="246" y="0" width="1" height="18"/><rect x="614" y="0" width="1" height="18"/><rect x="920" y="0" width="1" height="18"/><rect x="1181" y="0" width="1" height="18"/></g>
</g>
<use href="#grip" x="249" y="0"/><use href="#grip" x="617" y="0"/><use href="#grip" x="923" y="0"/>
<!-- left orange dot, diamond -->
<circle cx="0" cy="14" r="2" fill="#d89010"/>
<polygon points="7.4,3.1 8.8,4.5 7.4,5.9 6,4.5" fill="none" stroke="#000" stroke-width="0.8"/>
<!-- new order icon -->
<path d="M19.5 -1h8l3 3v9.5h-11z" fill="#fff" stroke="#9a9a9a" stroke-width="1"/>
<g stroke="#9a9a9a" stroke-width="1" shape-rendering="crispEdges"><line x1="21" y1="1.5" x2="24" y2="1.5"/><line x1="21" y1="4.5" x2="27" y2="4.5"/><line x1="21" y1="6.5" x2="26" y2="6.5"/></g>
<use href="#plus" x="23" y="4"/>
<!-- CJK: 新订单 -->
<g stroke="#000" stroke-width="1.05" fill="none">
<path d="M38.2 3.6H44.2M38.6 0.7H43.8M39.8 -1L40.2 0.7M42.8 -1L42.4 0.7M41.6 3.6V9.7l-1 -0.4M41 5L38.3 8.3M42.2 5L44.3 7.6"/>
<path d="M45.3 -1V3.6M46 3.6H53M47.4 3.6L47.2 7 46.2 9.8M51.9 3.6V9.9"/>
<path d="M52.4 -0.3L53.1 1.2M50.6 3.3H52.5V8.6L54.6 6.3M54.3 0.1H61M58.4 0V9.4H55.8"/>
<path d="M63.8 1.2H72.6V5.5H63.8ZM63.8 3.3H72.6M67.8 1.2V10M62.2 7.5H73.8"/>
</g>
<!-- gold book -->
<path d="M91.3 -1L101.9 6.3 101.6 8.8 94.4 14 86 8.1 90.6 -1z" fill="url(#ggold)" stroke="#a86a08" stroke-width="0.8"/>
<path d="M86.3 8.6L94.4 14.2 101.8 8.9" stroke="#9a5c06" stroke-width="1.4" fill="none"/><path d="M94.6 12.4l6.8-4.9" stroke="#f8e8a0" stroke-width="0.8" fill="none"/>
<!-- cloud -->
<rect x="116.6" y="-1" width="10.3" height="8" fill="#1e9cff"/><rect x="119" y="1" width="6" height="4" fill="#cfeaff"/>
<rect x="117.5" y="-1" width="1.5" height="7" fill="#fff" opacity="0.7"/>
<path d="M116.5 13.5a2.6 2.6 0 0 1 -0.3-5.2a3.3 3.3 0 0 1 6-1.6a2.8 2.8 0 0 1 4.6 1.9a2.5 2.5 0 0 1 0.2 4.9z" fill="#e8eef8" stroke="#5574a8" stroke-width="0.9"/>
<!-- signal -->
<path d="M150.3 -1.7A7.3 7.3 0 0 1 150.3 12.9z" fill="#6cba6c" opacity="0.55"/>
<path d="M150.3 1.6A4 4 0 0 1 150.3 9.6" fill="none" stroke="#e8f4e8" stroke-width="1"/>
<g fill="none" stroke-width="1.1"><path d="M151.5 1.8A4 4 0 1 0 150.3 9.6" stroke="#3a66d8"/><path d="M153 -1.2A7.3 7.3 0 1 0 150.3 12.9" stroke="#7fa0e8"/></g>
<circle cx="150.3" cy="5.6" r="1.6" fill="#2050d0"/>
<rect x="149.8" y="5.6" width="1.2" height="8" fill="#20a020"/>
<!-- autotrading -->
<path d="M170 5.6h13l-5.5 7.8h-2.5z" fill="#f4d030" stroke="#c8a010" stroke-width="0.6"/>
<ellipse cx="177" cy="3" rx="8" ry="2.6" fill="#4aa6e8"/><ellipse cx="177" cy="0.5" rx="4.5" ry="3" fill="#3a90d8"/>
<circle cx="181.6" cy="9.7" r="4" fill="#e02010"/><rect x="180.2" y="8.3" width="2.8" height="2.8" fill="#fff"/>
<!-- CJK: 自动交易 -->
<g stroke="#000" stroke-width="1.05" fill="none">
<path d="M191.8 -1V9.8M200.1 -1V9.8M191.8 0.8H200.1M191.8 3.2H200.1M191.8 5.7H200.1M191.8 8.4H200.1"/>
<path d="M203.2 0.3H207M202.7 3.4H207.6M205.2 3.7L203.3 7.9H206.8M206.2 5.6L207.4 8.8M208.2 1.7H212.2V9.2H210M210.1 -1V3.5L207.8 9.2"/>
<path d="M214.4 1.4H225.7M220 -1V1.2M217.4 3.1L215 5.8M222.4 3.1L224.8 5.8M223 5.5C221 8 218 9 214.4 9.6M216.8 5.5C218.5 8 221.5 9.2 225.7 9.8"/>
<path d="M228.3 -1V2.9H235.9V-1M228.3 1.2H235.9M229.1 4.6H236.5V9.3H234.5M229.1 4L226.3 6.4M231.9 4.9L227 8.9M234.6 4.9L229.7 9.5"/>
</g>
<!-- chart type icons -->
<use href="#axes" x="261" y="0"/>
<path d="M267.3 8.6h2.3M269.6 2.5h2.4" stroke="#008000" stroke-width="1.3" fill="none"/><rect x="268.9" y="1.3" width="1.6" height="8.2" fill="#008000"/>
<use href="#axes" x="289" y="0"/>
<rect x="295.3" y="-1" width="4.6" height="8.6" fill="#4be04b" stroke="#00b000" stroke-width="1"/><rect x="297" y="7.5" width="1.2" height="2.4" fill="#00b000"/>
<use href="#axes" x="317" y="0"/>
<path d="M318 8.8C320.5 8 322 3 324.3 3.1S327.5 6.3 329.8 7.2" stroke="#30a030" stroke-width="1.2" fill="none"/>
<!-- zoom in/out -->
<g id="zin"><line x1="358.8" y1="7.8" x2="364" y2="12.3" stroke="#c89a10" stroke-width="3.2"/><line x1="359.3" y1="7.6" x2="364.3" y2="11.9" stroke="#f0d848" stroke-width="1.2"/>
<circle cx="355" cy="4.1" r="5.6" fill="url(#gglass)" stroke="#2a6fc9" stroke-width="1.1"/><rect x="352" y="3.4" width="6" height="1.5" fill="#3f84b8"/></g>
<rect x="354.3" y="1.1" width="1.5" height="6" fill="#3f84b8"/>
<use href="#zin" x="28.1" y="0"/>
<!-- tile -->
<g shape-rendering="crispEdges"><rect x="405" y="-1" width="8" height="7" fill="#3ea414"/><rect x="413" y="-1" width="8" height="7" fill="#1446c8"/><rect x="405" y="6" width="8" height="8" fill="#1a50d0"/><rect x="413" y="6" width="8" height="8" fill="#3ea414"/>
<rect x="406.5" y="1.5" width="5.5" height="3.5" fill="#fff"/><rect x="414.5" y="1.5" width="5.5" height="3.5" fill="#fff"/><rect x="406.5" y="9" width="5.5" height="3.5" fill="#fff"/><rect x="414.5" y="9" width="5.5" height="3.5" fill="#fff"/></g>
<!-- autoscroll / shift -->
<use href="#axes" x="441" y="0"/><polygon points="448.1,1.9 448.1,8.8 452.3,5.3" fill="#30c030" stroke="#109010" stroke-width="0.7"/>
<use href="#axes" x="469" y="0"/><rect x="477" y="-1" width="1.1" height="10.7" fill="#1070a0"/>
<path d="M478.5 5.5h4.5M478.5 5.5l2.3-1.8M478.5 5.5l2.3 1.8" stroke="#e04000" stroke-width="1.2" fill="none"/>
<!-- indicators -->
<path d="M502.5 -1h8l3 3v9.5h-11z" fill="#fff" stroke="#9a9a9a" stroke-width="1"/>
<path d="M506.5 2.5h-1.3v6" stroke="#555" stroke-width="1" fill="none"/><line x1="504" y1="5" x2="506.5" y2="5" stroke="#555"/>
<use href="#plus" x="506.2" y="4"/>
<use href="#drop" x="523.7" y="5"/>
<!-- clock -->
<circle cx="548.1" cy="5.3" r="6.7" fill="#fff" stroke="url(#gclock)" stroke-width="2.4"/>
<path d="M548.1 5.5V1.8M548.1 5.5h2.6" stroke="#333" stroke-width="1" fill="none"/>
<g fill="#999"><rect x="547.7" y="9.5" width="1" height="1"/><rect x="543.6" y="5" width="1" height="1"/><rect x="552" y="5" width="1" height="1"/></g>
<use href="#drop" x="562.8" y="5"/>
<!-- template -->
<rect x="579.5" y="-1" width="15" height="13.5" fill="#fff" stroke="#3070c0" stroke-width="1.2"/><rect x="579.5" y="-1" width="15" height="2.6" fill="#4a90e0"/><rect x="579.5" y="6.9" width="15" height="0.9" fill="#3070c0"/>
<path d="M581.5 5.5h1.8l1.5-1.2h1.5l1.2-1h1.5l1 0.8h1.6l1.3-1" stroke="#a02000" stroke-width="1.1" fill="none"/>
<path d="M582.5 10.5l1.8-1h1.2l1.5 0.8 2-2h1.2l2 2" stroke="#008a00" stroke-width="1.1" fill="none"/>
<use href="#drop" x="601.9" y="5"/>
<!-- cursor -->
<path d="M631.3 -3V9.4L633.8 7.2 636 12.5 637.8 11.6 635.6 6.6 639 6.3z" fill="#4a4a4a"/>
<!-- crosshair -->
<g stroke="#555" stroke-width="1.1"><line x1="656" y1="6.4" x2="662" y2="6.4"/><line x1="665" y1="6.4" x2="671" y2="6.4"/><line x1="663.5" y1="-1" x2="663.5" y2="4.8"/><line x1="663.5" y1="8" x2="663.5" y2="13.8"/></g><rect x="663" y="6" width="1" height="1" fill="#555"/>
<!-- line tools -->
<g stroke="#444" stroke-width="1.2"><line x1="697.5" y1="-1" x2="697.5" y2="12.8"/><line x1="720" y1="6.4" x2="732" y2="6.4"/><line x1="747.8" y1="12.8" x2="760" y2="0.9"/></g>
<g stroke="#444" stroke-width="0.9"><line x1="774" y1="7.8" x2="783.7" y2="-0.5"/><line x1="775.6" y1="10" x2="786" y2="1"/><line x1="776" y1="12.5" x2="788" y2="4.2"/><line x1="776.5" y1="6" x2="777.5" y2="12"/><line x1="779.5" y1="3.5" x2="780.5" y2="10"/><line x1="782.5" y1="1" x2="783.5" y2="7.5"/><line x1="785.3" y1="-0.5" x2="786.3" y2="5.5"/></g>
<text x="784.8" y="14.7" font-size="6.5" font-weight="bold" fill="#333">E</text>
<g stroke="#444" stroke-width="1" stroke-dasharray="1,1"><line x1="803" y1="2.5" x2="816" y2="2.5"/><line x1="803" y1="6.5" x2="816" y2="6.5"/><line x1="803" y1="10.5" x2="812" y2="10.5"/></g>
<text x="812.6" y="14.7" font-size="6.5" font-weight="bold" fill="#333">F</text>
<text x="833.3" y="10.9" font-size="12" fill="#505050" stroke="#505050" stroke-width="0.3">A</text>
<rect x="860.5" y="0.5" width="11" height="12" fill="none" stroke="#444" stroke-width="1" stroke-dasharray="1,1"/>
<text x="862.3" y="10.6" font-size="10" fill="#505050" stroke="#505050" stroke-width="0.3">T</text>
<g fill="#505050"><polygon points="890.4,-0.5 893.8,3 892,4.4 888.8,4.4 887,3"/><polygon points="894.4,9 901,9 897.7,12.8"/><rect x="896.2" y="8" width="3" height="1.2"/></g>
<path d="M889.5 6.8l2 2 4-5" stroke="#505050" stroke-width="1.2" fill="none"/>
<use href="#drop" x="907.8" y="5"/>
<!-- timeframes -->
<g font-size="9.2" fill="#4a4a4a">
<text x="934.5" y="9.7">M1</text><text x="962.6" y="9.7">M5</text><text x="988.6" y="9.7">M15</text><text x="1016.7" y="9.7">M30</text><text x="1047.6" y="9.7">H1</text><text x="1074.5" y="9.7">H4</text><text x="1104" y="9.7">D1</text><text x="1131.2" y="9.7">W1</text><text x="1158" y="9.7">MN</text>
</g>
<!-- search -->
<line x1="1647.2" y1="6.6" x2="1643.2" y2="10.6" stroke="#2462e0" stroke-width="2.6" stroke-linecap="round"/>
<circle cx="1650.5" cy="3.3" r="3.6" fill="#f2f4ff" stroke="#2a5cde" stroke-width="1.3"/>
<!-- chat -->
<path d="M1670.5 13a6 5 0 1 1 3.5 0.6l-2.4 1.5 0.3-1.7z" fill="#e4e4ec" stroke="#a8a8a8" stroke-width="1"/>
<circle cx="1681.4" cy="3.8" r="8.2" fill="url(#gbadge)"/>
<text x="1680.6" y="8" font-family="Liberation Serif" font-size="13.4" font-weight="bold" fill="#fff" text-anchor="middle" style="font-family:'Liberation Serif',serif">1</text>

<polygon points="1460,23 1469,23 1464.5,27.8" fill="#c0c0c0"/>

</svg>
</body></html>
